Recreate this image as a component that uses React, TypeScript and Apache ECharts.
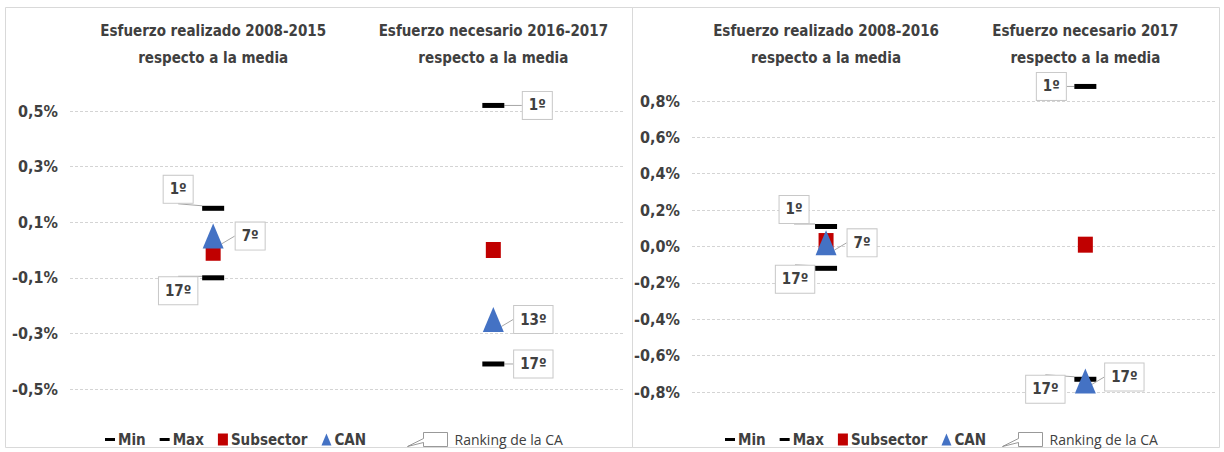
import React, { useEffect, useRef } from 'react';
import * as echarts from 'echarts';

// ---------- DATA ----------
const categoriesLeft = [
  'Esfuerzo realizado 2008-2015\nrespecto a la media',
  'Esfuerzo necesario 2016-2017\nrespecto a la media',
];
const minLeft = [-0.1, -0.41];
const maxLeft = [0.15, 0.52];
const subsectorLeft = [-0.01, 0.0];
const canLeft = [0.05, -0.25];
const rankMinLeft = [17, 17];
const rankMaxLeft = [1, 1];
const rankCanLeft = [7, 13];

const categoriesRight = [
  'Esfuerzo realizado 2008-2016\nrespecto a la media',
  'Esfuerzo necesario 2017\nrespecto a la media',
];
const minRight = [-0.12, -0.73];
const maxRight = [0.11, 0.88];
const subsectorRight = [0.03, 0.01];
const canRight = [0.02, -0.74];
const rankMinRight = [17, 17];
const rankMaxRight = [1, 1];
const rankCanRight = [7, 17];

const yAxisLeft = { min: -0.5, max: 0.5, interval: 0.2 };
const yAxisRight = { min: -0.8, max: 0.8, interval: 0.2 };

const legendNames = ['Min', 'Max', 'Subsector', 'CAN'];
const rankingLegend = 'Ranking de la CA';

// ---------- STYLE / LAYOUT CONFIG ----------
const FONT = "'Liberation Sans Narrow', 'DejaVu Sans Condensed', 'Liberation Sans', sans-serif";
const TEXT = '#404040';
const RED = '#C00000';
const BLUE = '#4472C4';

// label offsets (dx, dy) per point, px
const offMaxLeft = [[-35, -19], [44, 0]];
const offMinLeft = [[-35, 13], [40, 0]];
const offCanLeft = [[37, 0], [40, 0]];
const offMaxRight = [[-32, -17], [-34, 0]];
const offMinRight = [[-31, 11], [-40, 10]];
const offCanRight = [[36, 0], [39, -4]];

const DASH_ICON = 'path://M0,0H10V3H0Z';
const CALLOUT_ICON = 'path://M16,0L40,0L40,14L16,14L16,10L0,14L16,6Z';

function markerSeries(
  name: string,
  idx: number,
  values: number[],
  ranks: number[] | null,
  offsets: number[][] | null,
  symbol: string,
  symbolSize: number[],
  color: string,
  z: number
): any {
  const s: any = {
    type: 'scatter',
    name,
    xAxisIndex: idx,
    yAxisIndex: idx,
    clip: false,
    z,
    symbol,
    symbolSize,
    itemStyle: { color, opacity: 1 },
    emphasis: { disabled: true },
    data: values.map((v, i) => [i + 1, v]),
    label: { show: false },
  };
  if (ranks && offsets) {
    s.label = {
      show: true,
      position: 'inside',
      formatter: (p: any) => ranks[p.dataIndex] + 'º',
      fontFamily: FONT,
      fontWeight: 'bold',
      fontSize: 15,
      color: TEXT,
      backgroundColor: '#ffffff',
      borderColor: '#c8c8c8',
      borderWidth: 1,
      padding: [7, 6, 5, 6],
    };
    s.labelLine = { show: true, lineStyle: { color: '#a6a6a6', width: 1 } };
    s.labelLayout = (p: any) => ({ dx: offsets[p.dataIndex][0], dy: offsets[p.dataIndex][1] });
  }
  return s;
}

function panelSeries(
  idx: number,
  mn: number[], mx: number[], sub: number[], can: number[],
  rMin: number[], rMax: number[], rCan: number[],
  oMin: number[][], oMax: number[][], oCan: number[][]
) {
  return [
    markerSeries('Min', idx, mn, rMin, oMin, 'rect', [22, 5], '#000000', 3),
    markerSeries('Max', idx, mx, rMax, oMax, 'rect', [22, 5], '#000000', 3),
    markerSeries('Subsector', idx, sub, null, null, 'rect', [15, 16], RED, 4),
    markerSeries('CAN', idx, can, rCan, oCan, 'triangle', [21, 25], BLUE, 5),
  ];
}

function fmtPct(v: number) {
  const r = Math.round(v * 10) / 10;
  return (Object.is(r, -0) ? 0 : r).toFixed(1).replace('.', ',') + '%';
}

function xAxis(idx: number, cats: string[], min: number, max: number, margin: number): any {
  return {
    type: 'value',
    gridIndex: idx,
    position: 'top',
    min,
    max,
    axisLine: { show: false },
    axisTick: { show: false },
    splitLine: { show: false },
    axisLabel: {
      customValues: [1, 2],
      formatter: (v: number) => cats[Math.round(v) - 1] ?? '',
      fontFamily: FONT,
      fontWeight: 'bold',
      fontSize: 15,
      lineHeight: 27,
      color: TEXT,
      margin,
    },
  };
}

function yAxis(idx: number, cfg: { min: number; max: number; interval: number }): any {
  return {
    type: 'value',
    gridIndex: idx,
    min: cfg.min,
    max: cfg.max,
    interval: cfg.interval,
    axisLine: { show: false },
    axisTick: { show: false },
    axisLabel: {
      formatter: fmtPct,
      fontFamily: FONT,
      fontWeight: 'bold',
      fontSize: 16,
      color: TEXT,
      margin: 12,
    },
    splitLine: { show: true, lineStyle: { color: '#d4d4d4', type: [3, 2], width: 1 } },
  };
}

function legends(left: number, rankLeft: number): any[] {
  return [
    {
      left,
      top: 427,
      selectedMode: false,
      itemWidth: 10,
      itemHeight: 12,
      itemGap: 14,
      textStyle: { fontFamily: FONT, fontWeight: 'bold', fontSize: 15, color: TEXT, padding: [0, 0, 0, -2] },
      data: legendNames.map((n) => ({
        name: n,
        icon: n === 'Min' || n === 'Max' ? DASH_ICON : n === 'Subsector' ? 'rect' : 'triangle',
      })),
    },
    {
      left: rankLeft,
      top: 427,
      selectedMode: false,
      itemWidth: 44,
      itemHeight: 14,
      textStyle: { fontFamily: "'Open Sans', 'Liberation Sans', sans-serif", fontSize: 14, color: TEXT },
      data: [
        {
          name: rankingLegend,
          icon: CALLOUT_ICON,
          itemStyle: { color: '#ffffff', borderColor: '#7f7f7f', borderWidth: 1 },
        },
      ],
    },
  ];
}

export default function App() {
  const ref = useRef<HTMLDivElement>(null);
  useEffect(() => {
    if (!ref.current) return;
    const chart = echarts.init(ref.current, null, { renderer: 'svg' });
    const option: any = {
      animation: false,
      backgroundColor: '#ffffff',
      grid: [
        { left: 70, top: 111, width: 555, height: 278 },
        { left: 692, top: 101, width: 523, height: 291 },
      ],
      xAxis: [
        xAxis(0, categoriesLeft, 0.489, 2.47, 40),
        xAxis(1, categoriesRight, 0.483, 2.5, 30),
      ],
      yAxis: [yAxis(0, yAxisLeft), yAxis(1, yAxisRight)],
      legend: [...legends(100, 402), ...legends(720, 997)],
      graphic: [
        { type: 'rect', shape: { x: 5.5, y: 7.5, width: 627, height: 440 }, style: { fill: 'none', stroke: '#d9d9d9', lineWidth: 1 }, silent: true, z: -1 },
        { type: 'rect', shape: { x: 632.5, y: 7.5, width: 587, height: 440 }, style: { fill: 'none', stroke: '#d9d9d9', lineWidth: 1 }, silent: true, z: -1 },
      ],
      series: [
        ...panelSeries(0, minLeft, maxLeft, subsectorLeft, canLeft, rankMinLeft, rankMaxLeft, rankCanLeft, offMinLeft, offMaxLeft, offCanLeft),
        ...panelSeries(1, minRight, maxRight, subsectorRight, canRight, rankMinRight, rankMaxRight, rankCanRight, offMinRight, offMaxRight, offCanRight),
        { type: 'scatter', name: rankingLegend, xAxisIndex: 0, yAxisIndex: 0, data: [], itemStyle: { color: '#ffffff' } },
      ],
    };
    chart.setOption(option);
    return () => chart.dispose();
  }, []);
  return (
    <div
      ref={ref}
      style={{ position: 'absolute', left: 0, top: 0, width: 1224, height: 452 }}
    />
  );
}
